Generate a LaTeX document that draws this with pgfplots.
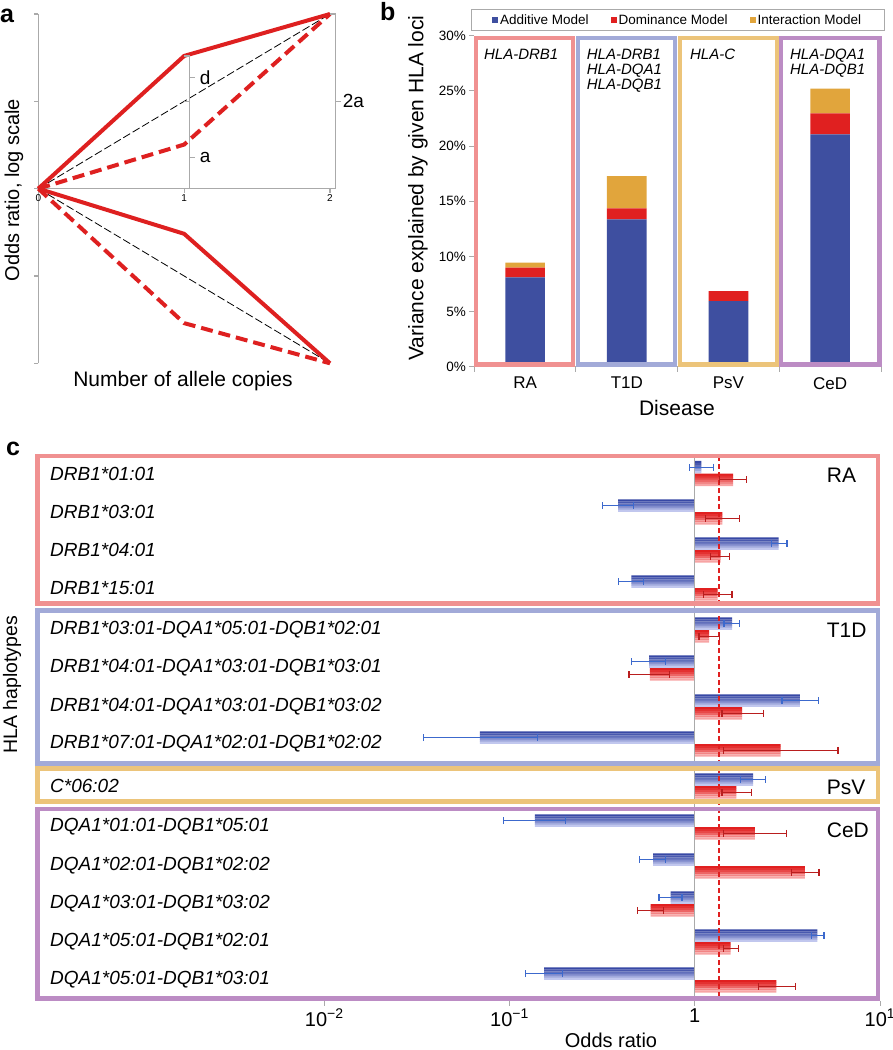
\documentclass[border=0pt]{standalone}
\usepackage{pgfplots}
\usepackage{pgfplotstable}
\pgfplotsset{compat=1.18}
\pgfplotsset{/pgf/number format/assume math mode=true}
\usepackage{fontspec}
\setmainfont{Liberation Sans}
\newcommand{\fs}[2]{\fontsize{#1}{#2}\selectfont}
\definecolor{redA}{RGB}{222,32,32}
\definecolor{blueA}{RGB}{62,79,160}
\definecolor{redD}{RGB}{224,32,32}
\definecolor{orangeI}{RGB}{225,165,60}
\definecolor{boxRA}{RGB}{240,145,145}
\definecolor{boxT}{RGB}{162,170,216}
\definecolor{boxP}{RGB}{236,196,122}
\definecolor{boxC}{RGB}{188,140,196}
\definecolor{bTop}{RGB}{55,72,165}
\definecolor{bBot}{RGB}{205,210,244}
\definecolor{rTop}{RGB}{225,32,32}
\definecolor{rBot}{RGB}{249,175,175}
\definecolor{errB}{RGB}{60,105,205}
\definecolor{errR}{RGB}{185,30,30}
\definecolor{axgray}{RGB}{170,170,170}
\newcommand{\slice}[3]{\addplot[xbar, bar width=2.2, bar shift=#2, draw=none, fill=#3, forget plot] table[x=v, y=y] {#1};}

\pgfplotstableread{
y v em ep
-467.2 0.036 0.063 0.063
-505.7 -0.414 0.084 0.085
-543.7 0.453 0.039 0.045
-581.7 -0.342 0.068 0.067
-623.7 0.201 0.043 0.042
-661.7 -0.247 0.095 0.090
-700.7 0.567 0.096 0.102
-737.7 -1.160 0.303 0.309
-779.7 0.315 0.068 0.068
-820.7 -0.863 0.168 0.165
-859.7 -0.225 0.072 0.068
-897.7 -0.130 0.063 0.061
-935.7 0.662 0.032 0.036
-973.7 -0.813 0.101 0.099
}\blueTab

\pgfplotstableread{
y v em ep
-479.8 0.207 0.072 0.072
-518.3 0.149 0.093 0.094
-556.3 0.139 0.053 0.050
-594.3 0.123 0.078 0.078
-636.3 0.077 0.054 0.058
-674.3 -0.243 0.112 0.108
-713.3 0.255 0.108 0.114
-750.3 0.464 0.307 0.309
-792.3 0.225 0.078 0.081
-833.3 0.324 0.167 0.171
-872.3 0.594 0.072 0.077
-910.3 -0.239 0.072 0.068
-948.3 0.194 0.041 0.043
-986.3 0.441 0.099 0.104
}\redTab

\begin{document}
\begin{tikzpicture}[x=1pt,y=1pt]
\useasboundingbox (0,0) rectangle (892,-1050);

% ---------------- panel a ----------------
\begin{axis}[at={(38.3pt,-363.3pt)}, anchor=south west, scale only axis,
  width=291.7pt, height=349.3pt, xmin=0, xmax=2, ymin=-2, ymax=2,
  axis x line=middle, axis y line=left,
  axis line style={draw=axgray, line width=1.2pt, -},
  xtick={0,1,2}, ytick={-2,-1,0,1,2}, yticklabels={},
  hide obscured x ticks=false, hide obscured y ticks=false,
  xtick align=outside, ytick align=outside, major tick length=4pt,
  tick style={draw=axgray, line width=1.2pt},
  xticklabel style={font=\fs{10}{12}, inner sep=2pt},
  clip=false]
\addplot[black, line width=0.8pt, dash pattern=on 8pt off 3pt] coordinates {(0,0) (2,2)};
\addplot[black, line width=0.8pt, dash pattern=on 8pt off 3pt] coordinates {(0,0) (2,-2)};
\addplot[redA, line width=4pt, line join=round] coordinates {(0,0) (1,1.52) (2,2)};
\addplot[redA, line width=4pt, dash pattern=on 12pt off 6pt] coordinates {(0,0) (1,0.505) (2,2)};
\addplot[redA, line width=4pt, line join=round] coordinates {(0,0) (1,-0.517) (2,-2)};
\addplot[redA, line width=4pt, dash pattern=on 12pt off 6pt] coordinates {(0,0) (1,-1.54) (2,-2)};
\draw[axgray, line width=1.2pt] (1.039,0) -- (1.039,1.52);
\draw[axgray, line width=1.2pt] (1,1.52) -- (1.039,1.52);
\draw[axgray, line width=1.2pt] (1.039,1.27) -- (1.075,1.27);
\draw[axgray, line width=1.2pt] (1.0,1) -- (1.039,1);
\draw[axgray, line width=1.2pt] (1.039,0.36) -- (1.075,0.36);
\node[anchor=west, inner sep=1pt, font=\fs{19}{22}] at (1.1,1.27) {d};
\node[anchor=west, inner sep=1pt, font=\fs{19}{22}] at (1.1,0.36) {a};
\draw[axgray, line width=1.2pt] (2.039,0) -- (2.039,2);
\draw[axgray, line width=1.2pt] (2,2) -- (2.039,2);
\draw[axgray, line width=1.2pt] (2,0) -- (2.039,0);
\draw[axgray, line width=1.2pt] (2.039,1) -- (2.075,1);
\node[anchor=west, inner sep=1pt, font=\fs{19}{22}] at (2.08,1) {2a};
\end{axis}

% ---------------- panel b ----------------
\begin{axis}[at={(474.3pt,-366.7pt)}, anchor=south west, scale only axis,
  width=406.7pt, height=331pt, xmin=-0.5, xmax=3.5, ymin=0, ymax=30,
  enlargelimits=false, ybar stacked, bar width=0.39,
  axis x line=bottom, axis y line=left,
  axis line style={draw=axgray, line width=1pt, -},
  xtick={0,1,2,3}, xticklabels={RA,T1D,PsV,CeD},
  minor xtick={-0.5,0.5,1.5,2.5,3.5},
  major x tick style={draw=none},
  minor x tick style={draw=axgray, line width=1pt},
  ytick={0,5,...,30}, yticklabel={\pgfmathprintnumber{\tick}\%},
  ytick style={draw=axgray, line width=1pt},
  tick align=outside, major tick length=5pt, minor tick length=5pt,
  xticklabel style={font=\fs{17}{20}, yshift=-2pt},
  yticklabel style={font=\fs{13.5}{16}},
  legend style={at={(0.5,1)}, anchor=south, yshift=5pt, legend columns=3,
    draw=axgray, line width=1pt, font=\fs{13.5}{16}, inner xsep=21pt, inner ysep=2.5pt,
    /tikz/every even column/.append style={column sep=20pt}},
  legend image code/.code={\fill[#1, draw=none] (0pt,-3pt) rectangle (6pt,3pt);},
  clip=false]
\draw[boxRA, line width=4.3pt] (-0.48,0.2) rectangle (0.47,29.81);
\draw[boxT, line width=4.3pt] (0.52,0.2) rectangle (1.471,29.81);
\draw[boxP, line width=4.3pt] (1.523,0.2) rectangle (2.477,29.81);
\draw[boxC, line width=4.3pt] (2.519,0.2) rectangle (3.484,29.81);
\addplot[fill=blueA, draw=none] coordinates {(0,8.1) (1,13.35) (2,5.95) (3,21.06)};
\addlegendentry{Additive Model}
\addplot[fill=redD, draw=none] coordinates {(0,0.87) (1,1.0) (2,0.91) (3,1.9)};
\addlegendentry{Dominance Model}
\addplot[fill=orangeI, draw=none] coordinates {(0,0.46) (1,2.93) (2,0) (3,2.24)};
\addlegendentry{Interaction Model}
\node[anchor=base west, inner sep=0pt, font=\fs{15}{18}\itshape] at (-0.405,27.87) {HLA-DRB1};
\node[anchor=base west, inner sep=0pt, font=\fs{15}{18}\itshape] at (0.605,27.87) {HLA-DRB1};
\node[anchor=base west, inner sep=0pt, font=\fs{15}{18}\itshape] at (0.605,26.45) {HLA-DQA1};
\node[anchor=base west, inner sep=0pt, font=\fs{15}{18}\itshape] at (0.605,25.09) {HLA-DQB1};
\node[anchor=base west, inner sep=0pt, font=\fs{15}{18}\itshape] at (1.621,27.87) {HLA-C};
\node[anchor=base west, inner sep=0pt, font=\fs{15}{18}\itshape] at (2.604,27.87) {HLA-DQA1};
\node[anchor=base west, inner sep=0pt, font=\fs{15}{18}\itshape] at (2.604,26.45) {HLA-DQB1};
\end{axis}

% ---------------- panel c ----------------
\begin{axis}[at={(36.7pt,-1000.5pt)}, anchor=south west, scale only axis,
  width=843.3pt, height=548.5pt, xmin=-3.553, xmax=1.0, ymin=-1000.5, ymax=-452,
  enlargelimits=false,
  axis x line=bottom, axis y line=left,
  x axis line style={draw=axgray, line width=1pt, -},
  y axis line style={draw=none},
  xtick={-2,-1,0,1},
  xticklabels={10\textsuperscript{−2},10\textsuperscript{−1},1,10\textsuperscript{1}},
  xtick style={draw=axgray, line width=1pt},
  xtick align=outside, major tick length=5pt,
  xticklabel style={font=\fs{20}{24}},
  ytick={-980,-942,-904,-866,-827,-786,-744,-707,-668,-630,-588,-550,-512,-473.5},
  yticklabels={DQA1*05:01-DQB1*03:01,DQA1*05:01-DQB1*02:01,DQA1*03:01-DQB1*03:02,DQA1*02:01-DQB1*02:02,DQA1*01:01-DQB1*05:01,C*06:02,DRB1*07:01-DQA1*02:01-DQB1*02:02,DRB1*04:01-DQA1*03:01-DQB1*03:02,DRB1*04:01-DQA1*03:01-DQB1*03:01,DRB1*03:01-DQA1*05:01-DQB1*02:01,DRB1*15:01,DRB1*04:01,DRB1*03:01,DRB1*01:01},
  ytick style={draw=none}, ytick align=inside,
  yticklabel style={anchor=west, inner sep=0pt, xshift=13.3pt, font=\fs{19}{22}\itshape},
  clip=false]
% blue bars (additive), drawn as horizontal slices for a top-to-bottom gradient
\slice{\blueTab}{5.125}{bTop}
\slice{\blueTab}{3.075}{bTop!88!bBot}
\slice{\blueTab}{1.025}{bTop!72!bBot}
\slice{\blueTab}{-1.025}{bTop!52!bBot}
\slice{\blueTab}{-3.075}{bTop!30!bBot}
\slice{\blueTab}{-5.125}{bTop!8!bBot}
% red bars (dominance)
\slice{\redTab}{5.125}{rTop}
\slice{\redTab}{3.075}{rTop!88!rBot}
\slice{\redTab}{1.025}{rTop!72!rBot}
\slice{\redTab}{-1.025}{rTop!52!rBot}
\slice{\redTab}{-3.075}{rTop!30!rBot}
\slice{\redTab}{-5.125}{rTop!8!rBot}
\addplot[axgray, line width=1.3pt] coordinates {(0,-456) (0,-998)};
\addplot[redD, line width=1.6pt, dash pattern=on 5pt off 3pt] coordinates {(0.131,-456) (0.131,-998)};
\addplot[draw=none, mark=none, forget plot,
  error bars/.cd, x dir=both, x explicit, error mark=|,
  error bar style={draw=errB, line width=1.2pt, solid},
  error mark options={draw=errB, line width=1.2pt, mark size=3.5pt, solid}]
  table[x=v, y=y, x error minus=em, x error plus=ep] {\blueTab};
\addplot[draw=none, mark=none, forget plot,
  error bars/.cd, x dir=both, x explicit, error mark=|,
  error bar style={draw=errR, line width=1.2pt, solid},
  error mark options={draw=errR, line width=1.2pt, mark size=3.5pt, solid}]
  table[x=v, y=y, x error minus=em, x error plus=ep] {\redTab};
\draw[boxRA, line width=4.5pt] (-3.55,-456) rectangle (0.988,-603.7);
\draw[boxT, line width=4.5pt] (-3.55,-610.5) rectangle (0.988,-763.3);
\draw[boxP, line width=4.5pt] (-3.55,-768.3) rectangle (0.988,-801.7);
\draw[boxC, line width=4.5pt] (-3.55,-809) rectangle (0.988,-998.3);
\node[anchor=west, inner sep=0pt, font=\fs{21}{24}] at (0.712,-475) {RA};
\node[anchor=west, inner sep=0pt, font=\fs{21}{24}] at (0.712,-630.5) {T1D};
\node[anchor=west, inner sep=0pt, font=\fs{21}{24}] at (0.712,-787) {PsV};
\node[anchor=west, inner sep=0pt, font=\fs{21}{24}] at (0.712,-830) {CeD};
\end{axis}

% ---------------- outer labels ----------------
\node[rotate=90, font=\fs{20}{24}] at (14,-190) {Odds ratio, log scale};
\node[font=\fs{21}{24}] at (183,-381) {Number of allele copies};
\node[rotate=90, font=\fs{21}{24}] at (418,-188) {Variance explained by given HLA loci};
\node[font=\fs{21}{24}] at (677,-408) {Disease};
\node[rotate=90, font=\fs{19.5}{24}] at (12,-685) {HLA haplotypes};
\node[anchor=base, font=\fs{20}{24}] at (611,-1047) {Odds ratio};
\node[anchor=base west, inner sep=0pt, font=\bfseries\fs{25}{28}] at (0,-22) {a};
\node[anchor=base west, inner sep=0pt, font=\bfseries\fs{25}{28}] at (380,-20) {b};
\node[anchor=base west, inner sep=0pt, font=\bfseries\fs{25}{28}] at (6,-455) {c};
\end{tikzpicture}
\end{document}
